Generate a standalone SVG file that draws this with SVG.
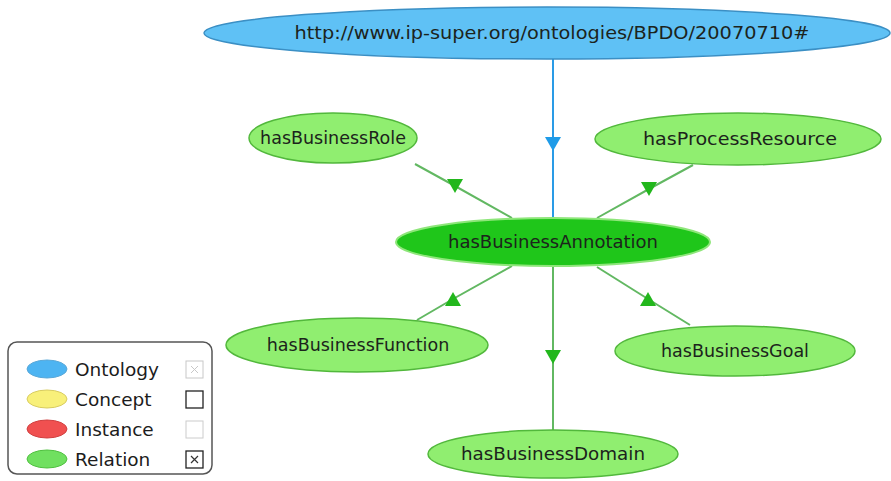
<svg xmlns="http://www.w3.org/2000/svg" width="891" height="481" viewBox="0 0 891 481">
  <style>
    .lbl { font-family: "DejaVu Sans", Verdana, sans-serif; font-size: 17.5px; fill: #1c241c; text-anchor: middle; dominant-baseline: central; }
    .rel { fill: #90ee70; stroke: #52b83c; stroke-width: 1.5; }
    .main { fill: #1fc61a; stroke: #8ee67a; stroke-width: 2; }
    .onto { fill: #5fc1f5; stroke: #3b8fc4; stroke-width: 1.5; }
    .edge { fill: none; stroke: #62b862; stroke-width: 2; }
    .edge-blue { fill: none; stroke: #2a9be6; stroke-width: 2; }
    .leg { font-family: "DejaVu Sans", Verdana, sans-serif; font-size: 18.5px; fill: #1c1c1c; dominant-baseline: central; }
  </style>
  <defs>
    <marker id="gDown" viewBox="-8 -7 16 14" refX="0" refY="0" markerUnits="userSpaceOnUse" markerWidth="16" markerHeight="14" orient="0">
      <path d="M-8,-7 L8,-7 L0,7 z" fill="#22b71c"/>
    </marker>
    <marker id="gUp" viewBox="-8 -7 16 14" refX="0" refY="0" markerUnits="userSpaceOnUse" markerWidth="16" markerHeight="14" orient="0">
      <path d="M-8,7 L8,7 L0,-7 z" fill="#22b71c"/>
    </marker>
    <marker id="bDown" viewBox="-8 -7 16 14" refX="0" refY="0" markerUnits="userSpaceOnUse" markerWidth="16" markerHeight="14" orient="0">
      <path d="M-8,-7 L8,-7 L0,7 z" fill="#1f9be8"/>
    </marker>
  </defs>
  <rect width="891" height="481" fill="#ffffff"/>

  <g id="connectors">
    <path class="edge-blue" d="M553,59 L553,144 L553,218" marker-mid="url(#bDown)"/>
    <path class="edge" d="M415,164 L455,186 L512,218" marker-mid="url(#gDown)"/>
    <path class="edge" d="M693,165 L649,189 L597,218" marker-mid="url(#gDown)"/>
    <path class="edge" d="M417,320 L453,299 L512,266" marker-mid="url(#gUp)"/>
    <path class="edge" d="M690,325 L648,299 L597,267" marker-mid="url(#gUp)"/>
    <path class="edge" d="M553,267 L553,357 L553,431" marker-mid="url(#gDown)"/>
  </g>

  <g id="ontology">
    <ellipse class="onto" cx="547" cy="33" rx="343" ry="26"/>
    <text class="lbl" x="552" y="33" textLength="515" lengthAdjust="spacingAndGlyphs">http://www.ip-super.org/ontologies/BPDO/20070710#</text>
  </g>
  <g id="hasBusinessRole">
    <ellipse class="rel" cx="333" cy="138" rx="84" ry="25"/>
    <text class="lbl" x="333" y="138">hasBusinessRole</text>
  </g>
  <g id="hasProcessResource">
    <ellipse class="rel" cx="738" cy="139" rx="143" ry="26"/>
    <text class="lbl" x="740" y="139" textLength="194" lengthAdjust="spacingAndGlyphs">hasProcessResource</text>
  </g>
  <g id="hasBusinessAnnotation">
    <ellipse class="main" cx="553" cy="242" rx="157" ry="24"/>
    <text class="lbl" x="553" y="242" textLength="210" lengthAdjust="spacingAndGlyphs">hasBusinessAnnotation</text>
  </g>
  <g id="hasBusinessFunction">
    <ellipse class="rel" cx="357" cy="345" rx="131" ry="27"/>
    <text class="lbl" x="358" y="345">hasBusinessFunction</text>
  </g>
  <g id="hasBusinessGoal">
    <ellipse class="rel" cx="735" cy="351" rx="120" ry="25"/>
    <text class="lbl" x="735" y="351">hasBusinessGoal</text>
  </g>
  <g id="hasBusinessDomain">
    <ellipse class="rel" cx="553" cy="454" rx="125" ry="24"/>
    <text class="lbl" x="553" y="454" textLength="184" lengthAdjust="spacingAndGlyphs">hasBusinessDomain</text>
  </g>

  <g id="legend">
    <rect x="8" y="342" width="204" height="132" rx="9" ry="9" fill="#ffffff" stroke="#555555" stroke-width="1.5"/>
    <ellipse cx="47" cy="369" rx="20" ry="9" fill="#4db4f2" stroke="#5aa8d8" stroke-width="1"/>
    <text class="leg" x="75" y="369">Ontology</text>
    <ellipse cx="47" cy="399" rx="20" ry="9" fill="#f8f07a" stroke="#d8cc60" stroke-width="1"/>
    <text class="leg" x="75" y="399">Concept</text>
    <ellipse cx="47" cy="429" rx="20" ry="9" fill="#f05050" stroke="#d04040" stroke-width="1"/>
    <text class="leg" x="75" y="429">Instance</text>
    <ellipse cx="47" cy="459" rx="20" ry="9" fill="#70e060" stroke="#50c040" stroke-width="1"/>
    <text class="leg" x="75" y="459">Relation</text>
    <rect x="186" y="361" width="17" height="17" fill="#ffffff" stroke="#c8c8c8" stroke-width="1"/>
    <path d="M191,366 L198,373 M198,366 L191,373" stroke="#c8c8c8" stroke-width="1"/>
    <rect x="186" y="391" width="17" height="17" fill="#ffffff" stroke="#222222" stroke-width="1.3"/>
    <rect x="186" y="421" width="17" height="17" fill="#ffffff" stroke="#cccccc" stroke-width="1"/>
    <rect x="186" y="451" width="17" height="17" fill="#ffffff" stroke="#222222" stroke-width="1.3"/>
    <path d="M191,456 L198,463 M198,456 L191,463" stroke="#333333" stroke-width="1.2"/>
  </g>
</svg>
